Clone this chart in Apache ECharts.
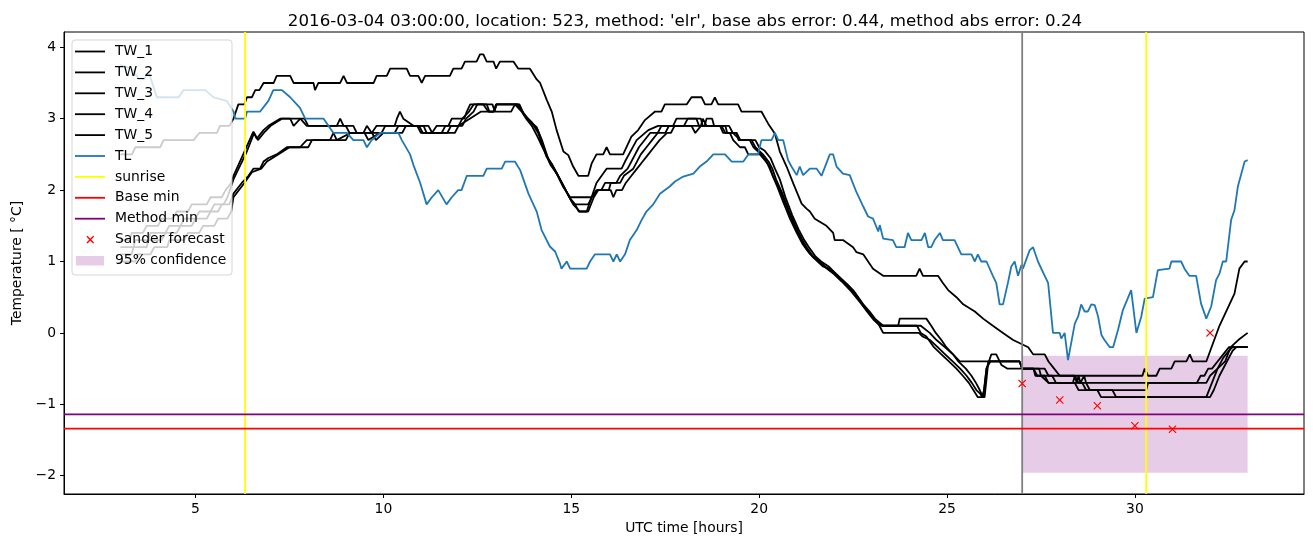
<!DOCTYPE html>
<html>
<head>
<meta charset="utf-8">
<script src="https://cdn.jsdelivr.net/npm/echarts@6/dist/echarts.min.js"></script>
<style>html,body{margin:0;padding:0;background:#fff}#c{width:1313px;height:547px}</style>
</head>
<body>
<div id="c"></div>
<script>
// ---------------- data ----------------
const tw1 = [[3.0,2.5],[3.31,2.5],[3.4,2.6],[4.06,2.6],[4.15,2.7],[4.95,2.7],[5.1,2.8],[5.57,2.8],[5.65,2.9],[5.9,2.9],[6.01,3.0],[6.14,3.2],[6.3,3.2],[6.37,3.3],[6.5,3.3],[6.59,3.4],[6.7,3.4],[6.81,3.5],[7.08,3.5],[7.16,3.6],[7.52,3.6],[7.61,3.5],[8.14,3.5],[8.18,3.4],[8.27,3.5],[8.85,3.5],[8.94,3.6],[9.03,3.5],[9.74,3.5],[9.82,3.6],[10.09,3.6],[10.18,3.7],[10.62,3.7],[10.71,3.6],[10.93,3.6],[11.02,3.5],[11.11,3.6],[11.77,3.6],[11.86,3.7],[12.08,3.7],[12.17,3.8],[12.48,3.8],[12.57,3.9],[12.66,3.9],[12.75,3.8],[12.93,3.8],[13.0,3.7],[13.1,3.8],[13.46,3.8],[13.59,3.7],[13.9,3.7],[14.08,3.55],[14.17,3.5],[14.35,3.26],[14.48,3.1],[14.61,2.84],[14.79,2.54],[14.92,2.49],[15.05,2.33],[15.19,2.2],[15.45,2.2],[15.54,2.37],[15.67,2.5],[15.85,2.5],[15.94,2.6],[16.03,2.5],[16.38,2.5],[16.6,2.75],[16.78,2.84],[16.96,2.98],[17.23,3.1],[17.4,3.1],[17.49,3.2],[18.07,3.2],[18.2,3.3],[18.47,3.3],[18.56,3.2],[18.73,3.2],[18.82,3.3],[18.91,3.2],[19.44,3.2],[19.53,3.1],[20.06,3.1],[20.24,2.93],[20.42,2.79],[20.55,2.54],[20.73,2.33],[20.91,2.09],[21.13,1.81],[21.26,1.74],[21.35,1.7],[21.48,1.6],[21.79,1.5],[21.97,1.4],[22.01,1.3],[22.23,1.3],[22.5,1.2],[22.59,1.13],[22.77,1.1],[22.9,1.0],[23.03,0.9],[23.3,0.8],[24.18,0.8],[24.27,0.9],[24.36,0.8],[24.76,0.8],[24.89,0.7],[25.03,0.6],[25.25,0.5],[25.43,0.4],[25.74,0.3],[25.96,0.2],[26.22,0.1],[26.49,0.0],[26.76,-0.1],[27.16,-0.2],[27.29,-0.3],[27.6,-0.3],[27.7,-0.4],[27.85,-0.5],[28.0,-0.6],[30.2,-0.6],[30.26,-0.5],[30.35,-0.6],[30.57,-0.6],[30.66,-0.5],[30.97,-0.5],[31.06,-0.4],[31.37,-0.4],[31.46,-0.3],[31.54,-0.4],[31.9,-0.4],[32.25,0.1],[32.65,0.55],[32.78,0.9],[32.92,1.0],[33.0,1.0]];

const tw2 = [[3.0,1.3],[3.25,1.3],[3.3,1.4],[3.6,1.4],[3.7,1.5],[4.0,1.5],[4.1,1.6],[4.4,1.6],[4.5,1.7],[4.8,1.7],[4.9,1.8],[5.3,1.8],[5.4,1.9],[5.7,1.9],[5.8,2.0],[5.95,2.1],[6.01,2.2],[6.32,2.56],[6.54,2.82],[6.63,2.72],[6.81,2.84],[6.94,2.9],[7.25,3.0],[7.52,3.0],[7.61,2.9],[7.79,3.0],[7.96,2.9],[8.76,2.9],[8.85,3.0],[8.94,2.9],[9.2,2.9],[9.29,2.8],[9.47,2.8],[9.56,2.9],[9.69,2.8],[9.82,2.9],[10.3,2.9],[10.36,3.0],[10.44,3.1],[10.53,3.0],[10.8,2.9],[11.07,2.9],[11.15,2.8],[11.29,2.8],[11.42,2.9],[11.73,2.9],[11.82,3.0],[12.15,3.0],[12.22,3.1],[12.31,3.2],[12.66,3.2],[12.79,3.1],[12.93,3.1],[13.0,3.2],[13.59,3.2],[13.72,3.07],[13.9,2.96],[14.08,2.88],[14.17,2.75],[14.34,2.47],[14.48,2.37],[14.79,2.04],[14.97,1.9],[15.54,1.9],[15.67,2.1],[15.94,2.3],[16.34,2.3],[16.43,2.4],[16.74,2.7],[17.05,2.84],[17.31,2.9],[17.71,2.9],[17.8,3.0],[18.33,3.0],[18.4,2.9],[18.96,2.9],[19.04,2.8],[19.22,2.8],[19.31,2.7],[19.49,2.6],[19.62,2.6],[19.71,2.5],[20.02,2.5],[20.15,2.42],[20.28,2.33],[20.37,2.19],[20.55,2.0],[20.73,1.77],[20.91,1.53],[21.08,1.35],[21.22,1.21],[21.35,1.11],[21.53,1.02],[21.7,0.93],[21.88,0.9],[22.1,0.8],[22.3,0.7],[22.5,0.6],[22.77,0.4],[22.94,0.3],[23.08,0.2],[23.3,0.1],[23.7,0.1],[23.74,0.2],[24.45,0.2],[24.58,0.1],[24.7,0.0],[24.85,-0.1],[24.98,-0.2],[25.16,-0.3],[25.34,-0.4],[26.93,-0.4],[27.0,-0.5],[27.45,-0.5],[27.5,-0.6],[27.7,-0.7],[28.45,-0.7],[28.5,-0.6],[28.55,-0.7],[28.65,-0.6],[28.7,-0.7],[31.9,-0.7],[32.0,-0.6],[32.2,-0.5],[32.4,-0.4],[32.55,-0.2],[32.75,-0.1],[33.0,0.0]];

const tw3 = [[3.0,1.2],[3.35,1.2],[3.4,1.3],[3.75,1.3],[3.8,1.4],[4.2,1.4],[4.3,1.5],[4.6,1.5],[4.7,1.6],[5.0,1.6],[5.1,1.7],[5.4,1.7],[5.5,1.8],[5.75,1.8],[5.85,1.9],[6.01,2.15],[6.35,2.52],[6.56,2.8],[6.66,2.7],[6.85,2.82],[7.0,2.9],[7.3,3.0],[7.9,3.0],[8.0,2.9],[9.0,2.9],[9.1,2.8],[9.95,2.8],[10.05,2.9],[10.9,2.9],[11.0,2.8],[11.55,2.8],[11.65,2.9],[12.0,2.9],[12.1,3.0],[12.28,3.1],[12.4,3.2],[12.9,3.2],[12.97,3.1],[13.4,3.1],[13.5,3.2],[13.62,3.2],[13.75,3.05],[13.95,2.95],[14.1,2.85],[14.22,2.7],[14.38,2.45],[14.55,2.3],[14.85,2.0],[15.0,1.85],[15.1,1.8],[15.45,1.8],[15.55,1.9],[15.7,2.0],[15.8,2.0],[15.9,2.1],[16.2,2.1],[16.3,2.2],[16.5,2.3],[16.8,2.6],[17.1,2.8],[17.3,2.8],[17.4,2.9],[18.0,2.9],[18.1,3.0],[18.45,3.0],[18.5,2.9],[19.1,2.9],[19.15,2.8],[19.4,2.8],[19.45,2.7],[19.8,2.7],[19.9,2.6],[20.1,2.5],[20.25,2.4],[20.35,2.3],[20.45,2.15],[20.62,1.95],[20.8,1.7],[20.98,1.48],[21.15,1.3],[21.3,1.17],[21.42,1.08],[21.6,1.0],[21.78,0.92],[21.95,0.85],[22.15,0.75],[22.35,0.65],[22.55,0.55],[22.8,0.36],[22.98,0.25],[23.12,0.15],[23.3,0.1],[24.3,0.1],[24.54,0.0],[24.72,-0.1],[24.94,-0.2],[25.16,-0.3],[25.3,-0.4],[25.5,-0.5],[25.65,-0.6],[25.77,-0.7],[25.87,-0.8],[25.96,-0.9],[26.05,-0.5],[26.18,-0.3],[26.31,-0.3],[26.45,-0.45],[26.6,-0.5],[27.3,-0.5],[27.4,-0.6],[27.6,-0.6],[27.7,-0.7],[28.4,-0.7],[28.5,-0.8],[30.3,-0.8],[30.35,-0.7],[31.65,-0.7],[31.75,-0.6],[31.85,-0.6],[31.95,-0.5],[32.05,-0.5],[32.2,-0.4],[32.35,-0.3],[32.5,-0.2],[33.0,-0.2]];

const tw4 = [[3.0,1.1],[3.3,1.1],[3.35,1.2],[3.7,1.2],[3.75,1.3],[4.1,1.3],[4.2,1.4],[4.5,1.4],[4.6,1.5],[4.9,1.5],[5.0,1.6],[5.3,1.6],[5.4,1.7],[5.6,1.7],[5.7,1.8],[5.9,1.8],[6.01,1.95],[6.23,2.1],[6.41,2.2],[6.54,2.3],[6.72,2.3],[6.81,2.4],[6.94,2.45],[7.16,2.5],[7.43,2.6],[7.78,2.6],[7.96,2.7],[8.58,2.7],[8.67,2.8],[8.76,2.7],[9.12,2.8],[9.5,2.8],[9.6,2.7],[9.9,2.8],[10.3,2.8],[10.4,2.9],[10.95,2.9],[11.05,2.8],[11.7,2.8],[11.8,2.9],[12.1,2.9],[12.2,3.0],[12.4,3.1],[12.5,3.2],[12.75,3.2],[12.82,3.1],[12.95,3.1],[13.02,3.2],[13.55,3.2],[13.7,3.1],[13.85,3.0],[14.0,2.9],[14.12,2.8],[14.25,2.6],[14.42,2.4],[14.6,2.25],[14.75,2.1],[14.9,1.95],[15.05,1.8],[15.23,1.7],[15.41,1.7],[15.54,1.9],[15.67,2.0],[16.05,2.0],[16.12,1.9],[16.2,2.0],[16.35,2.0],[16.45,2.1],[16.6,2.2],[16.75,2.3],[16.9,2.4],[17.05,2.5],[17.2,2.6],[17.35,2.7],[17.55,2.8],[17.65,2.8],[17.75,2.9],[18.55,2.9],[18.6,3.0],[18.75,3.0],[18.8,2.9],[19.2,2.9],[19.3,2.8],[19.5,2.7],[19.9,2.7],[20.0,2.6],[20.15,2.55],[20.3,2.45],[20.42,2.3],[20.55,2.15],[20.7,1.9],[20.88,1.65],[21.05,1.45],[21.2,1.3],[21.35,1.18],[21.5,1.07],[21.65,1.0],[21.85,0.93],[22.0,0.85],[22.2,0.75],[22.4,0.65],[22.6,0.52],[22.85,0.33],[23.02,0.22],[23.2,0.1],[23.3,0.0],[24.25,0.0],[24.35,-0.05],[24.55,-0.1],[24.75,-0.2],[24.95,-0.3],[25.15,-0.4],[25.35,-0.5],[25.52,-0.6],[25.66,-0.7],[25.78,-0.8],[25.88,-0.85],[25.94,-0.9],[26.0,-0.9],[26.1,-0.4],[26.93,-0.4],[27.0,-0.5],[27.3,-0.5],[27.35,-0.6],[27.8,-0.6],[27.9,-0.7],[28.35,-0.7],[28.4,-0.6],[28.45,-0.7],[28.6,-0.7],[28.7,-0.8],[29.0,-0.8],[29.1,-0.9],[31.9,-0.9],[32.05,-0.7],[32.2,-0.5],[32.35,-0.35],[32.5,-0.25],[32.6,-0.2],[33.0,-0.2]];

const tw5 = [[3.0,1.0],[3.4,1.0],[3.45,1.1],[3.8,1.1],[3.9,1.2],[4.25,1.2],[4.3,1.3],[4.7,1.3],[4.8,1.4],[5.1,1.4],[5.2,1.5],[5.5,1.5],[5.6,1.6],[5.85,1.6],[5.95,1.7],[6.01,1.9],[6.3,2.1],[6.5,2.25],[6.75,2.3],[6.9,2.4],[7.2,2.5],[7.5,2.6],[8.0,2.6],[8.1,2.7],[9.0,2.7],[9.1,2.8],[9.7,2.8],[9.8,2.7],[10.0,2.8],[10.5,2.8],[10.6,2.9],[11.2,2.9],[11.3,2.8],[11.9,2.8],[12.0,2.9],[12.3,3.0],[12.6,3.1],[12.95,3.1],[13.0,3.2],[13.5,3.2],[13.68,3.1],[13.8,3.0],[13.95,2.9],[14.1,2.75],[14.28,2.55],[14.45,2.35],[14.65,2.2],[14.8,2.05],[14.95,1.9],[15.1,1.8],[15.2,1.7],[15.45,1.7],[15.6,1.9],[15.72,2.0],[16.0,2.0],[16.05,2.1],[16.3,2.1],[16.4,2.2],[16.65,2.3],[16.85,2.5],[17.0,2.6],[17.15,2.7],[17.3,2.8],[17.5,2.8],[17.6,2.9],[18.2,2.9],[18.3,2.8],[18.45,2.9],[18.5,3.0],[18.6,2.9],[19.0,2.9],[19.1,2.8],[19.4,2.8],[19.5,2.7],[19.75,2.7],[19.85,2.6],[20.05,2.5],[20.2,2.4],[20.32,2.25],[20.48,2.05],[20.65,1.82],[20.82,1.6],[21.0,1.4],[21.15,1.25],[21.3,1.14],[21.45,1.05],[21.62,0.97],[21.8,0.9],[22.0,0.82],[22.2,0.72],[22.45,0.58],[22.7,0.42],[22.9,0.28],[23.05,0.18],[23.25,0.1],[24.2,0.1],[24.3,0.0],[24.45,-0.05],[24.65,-0.2],[24.85,-0.3],[25.05,-0.4],[25.25,-0.5],[25.42,-0.6],[25.58,-0.7],[25.7,-0.8],[25.82,-0.9],[25.93,-0.9],[25.99,-0.8],[26.05,-0.5],[26.15,-0.4],[26.93,-0.4],[27.0,-0.5],[27.6,-0.5],[27.7,-0.6],[28.4,-0.6],[28.5,-0.7],[28.7,-0.7],[28.8,-0.8],[29.4,-0.8],[29.5,-0.9],[32.0,-0.9],[32.1,-0.8],[32.25,-0.6],[32.4,-0.45],[32.5,-0.35],[32.6,-0.25],[32.7,-0.2],[33.0,-0.2]];

const tl = [[3.0,3.75],[3.3,3.7],[3.5,3.55],[3.62,3.55],[3.75,3.65],[3.85,3.5],[3.97,3.3],[4.55,3.3],[4.68,3.4],[5.26,3.4],[5.48,3.3],[5.83,3.25],[6.01,3.1],[6.06,3.0],[6.32,3.0],[6.37,3.1],[6.72,3.1],[6.94,3.25],[7.07,3.4],[7.3,3.4],[7.52,3.3],[7.78,3.15],[7.92,3.0],[8.41,3.0],[8.67,2.8],[9.03,2.8],[9.2,2.7],[9.47,2.7],[9.56,2.6],[9.69,2.7],[9.91,2.8],[10.4,2.8],[10.49,2.7],[10.71,2.5],[10.8,2.35],[10.98,2.1],[11.15,1.8],[11.29,1.9],[11.46,2.0],[11.68,1.8],[11.82,1.9],[11.99,2.0],[12.08,2.0],[12.22,2.2],[12.66,2.2],[12.75,2.3],[13.15,2.3],[13.24,2.4],[13.5,2.4],[13.64,2.28],[13.86,1.95],[14.08,1.7],[14.21,1.44],[14.43,1.21],[14.57,1.14],[14.7,0.97],[14.74,0.9],[14.88,1.0],[14.97,0.9],[15.41,0.9],[15.5,1.0],[15.63,1.1],[16.03,1.1],[16.12,1.0],[16.21,1.1],[16.3,1.0],[16.43,1.1],[16.56,1.3],[16.74,1.44],[16.87,1.58],[17.0,1.7],[17.18,1.8],[17.36,1.95],[17.62,2.05],[17.76,2.12],[17.98,2.19],[18.25,2.23],[18.42,2.33],[18.6,2.4],[18.78,2.5],[19.09,2.5],[19.27,2.4],[19.58,2.4],[19.71,2.5],[19.97,2.5],[20.06,2.7],[20.33,2.7],[20.42,2.8],[20.51,2.7],[20.64,2.7],[20.77,2.42],[20.86,2.33],[21.0,2.21],[21.08,2.33],[21.17,2.21],[21.35,2.3],[21.53,2.3],[21.66,2.2],[21.88,2.5],[21.97,2.5],[22.06,2.33],[22.23,2.23],[22.41,2.21],[22.59,1.97],[22.77,1.77],[22.9,1.63],[23.03,1.6],[23.17,1.42],[23.21,1.51],[23.3,1.32],[23.56,1.3],[23.65,1.2],[23.87,1.2],[23.96,1.4],[24.05,1.3],[24.32,1.3],[24.41,1.4],[24.5,1.2],[24.58,1.2],[24.67,1.3],[24.81,1.4],[24.89,1.3],[25.2,1.3],[25.38,1.1],[25.65,1.1],[25.74,1.0],[25.82,1.1],[25.91,1.0],[26.05,1.0],[26.22,0.8],[26.31,0.7],[26.4,0.4],[26.49,0.4],[26.62,0.7],[26.71,0.93],[26.8,1.0],[26.89,0.8],[26.98,0.95],[27.02,0.9],[27.2,1.16],[27.29,1.2],[27.42,1.0],[27.6,0.8],[27.69,0.7],[27.82,0.0],[28.0,0.0],[28.04,-0.08],[28.13,0.0],[28.22,-0.38],[28.4,0.13],[28.49,0.23],[28.57,0.4],[28.66,0.3],[28.75,0.3],[28.84,0.4],[28.93,0.39],[29.02,0.23],[29.11,-0.03],[29.19,-0.1],[29.33,-0.2],[29.42,-0.2],[29.55,0.04],[29.68,0.32],[29.9,0.6],[30.04,0.0],[30.08,0.02],[30.17,0.23],[30.26,0.48],[30.3,0.5],[30.48,0.5],[30.61,0.88],[30.66,0.9],[30.92,0.9],[30.97,1.0],[31.23,1.0],[31.32,0.9],[31.45,0.8],[31.63,0.8],[31.76,0.41],[31.9,0.2],[32.03,0.37],[32.16,0.74],[32.25,0.83],[32.34,1.0],[32.43,1.0],[32.56,1.58],[32.65,1.72],[32.74,2.05],[32.92,2.4],[33.0,2.42]];

const sunriseHours = [6.32, 30.30];
const nowHour = [27.0];
const baseMin = [-1.34];
const methodMin = [-1.14];
const sanderHours = [27, 28, 29, 30, 31, 32];
const sanderTemps = [-0.71, -0.94, -1.02, -1.30, -1.35, 0.0];
const confHours = [27, 33];
const confTemps = [-1.96, -0.32];
const xTicks = [5, 10, 15, 20, 25, 30];
const yTicks = [-2, -1, 0, 1, 2, 3, 4];

const titleText = "2016-03-04 03:00:00, location: 523, method: 'elr', base abs error: 0.44, method abs error: 0.24";
const legendNames = ['TW_1','TW_2','TW_3','TW_4','TW_5','TL','sunrise','Base min','Method min','Sander forecast','95% confidence'];

// ---------------- styles ----------------
const FONT = 'DejaVu Sans';
const FS = 13.9;
const LW = 1.8;
const C_TL = '#1f77b4';
const C_CONF = 'rgba(128,0,128,0.2)';
const X_PATH = 'path://M0,1 L1,0 L5,4 L9,0 L10,1 L6,5 L10,9 L9,10 L5,6 L1,10 L0,9 L4,5 Z';
const LEG_Z = 100;

function vlineRender(color) {
  return function (params, api) {
    const x = api.coord([api.value(0), 0])[0];
    const cs = params.coordSys;
    return { type: 'line', shape: { x1: x, y1: cs.y, x2: x, y2: cs.y + cs.height },
      style: { stroke: color, lineWidth: LW } };
  };
}
function hlineRender(color) {
  return function (params, api) {
    const y = api.coord([0, api.value(1)])[1];
    const cs = params.coordSys;
    return { type: 'line', shape: { x1: cs.x, y1: y, x2: cs.x + cs.width, y2: y },
      style: { stroke: color, lineWidth: LW } };
  };
}
function rectRender(params, api) {
  const p0 = api.coord([api.value(0), api.value(3)]);
  const p1 = api.coord([api.value(1), api.value(2)]);
  return { type: 'rect', shape: { x: p0[0], y: p0[1], width: p1[0] - p0[0], height: p1[1] - p0[1] },
    style: { fill: C_CONF } };
}

const twSeries = [tw1, tw2, tw3, tw4, tw5].map((d, i) => ({
  name: 'TW_' + (i + 1), type: 'line', data: d, symbol: 'none', showSymbol: false,
  lineStyle: { color: '#000', width: LW }, itemStyle: { color: '#000' }, z: 4, silent: true
}));

// legend built as graphic (matplotlib-like)
const legX = 72, legY = 40, legW = 160, legH = 235, rowH = 20.9, row0 = 51.5;
const legChildren = [{
  type: 'rect', z: LEG_Z, shape: { x: legX, y: legY, width: legW, height: legH, r: 3 },
  style: { fill: 'rgba(255,255,255,0.8)', stroke: 'rgba(204,204,204,0.8)', lineWidth: 1 }
}];
const legColors = ['#000','#000','#000','#000','#000',C_TL,'#ffff00','#ff0000','#800080'];
legendNames.forEach((name, i) => {
  const cy = row0 + i * rowH;
  if (i < 9) {
    legChildren.push({ type: 'line', z: LEG_Z + 1, shape: { x1: 75, y1: cy, x2: 105, y2: cy },
      style: { stroke: legColors[i], lineWidth: LW } });
  } else if (i === 9) {
    legChildren.push({ type: 'line', z: LEG_Z + 1, shape: { x1: 87, y1: cy - 3.3, x2: 93.6, y2: cy + 3.3 },
      style: { stroke: '#ff0000', lineWidth: 1.4 } });
    legChildren.push({ type: 'line', z: LEG_Z + 1, shape: { x1: 87, y1: cy + 3.3, x2: 93.6, y2: cy - 3.3 },
      style: { stroke: '#ff0000', lineWidth: 1.4 } });
  } else {
    legChildren.push({ type: 'rect', z: LEG_Z + 1, shape: { x: 76, y: cy - 4.5, width: 28, height: 9.5 },
      style: { fill: C_CONF } });
  }
  legChildren.push({ type: 'text', z: LEG_Z + 1, x: 115, y: cy, style: { text: name, fill: '#000',
    font: FS + 'px "' + FONT + '"', verticalAlign: 'middle', align: 'left' } });
});

const option = {
  animation: false,
  backgroundColor: '#fff',
  textStyle: { fontFamily: FONT },
  title: {
    text: titleText, left: 680, top: 8, textAlign: 'center',
    textStyle: { fontFamily: FONT, fontSize: 16.67, fontWeight: 'normal', color: '#000' }
  },
  grid: { left: 64, right: 9, top: 32, bottom: 53, show: true, borderColor: '#000', borderWidth: 1, containLabel: false },
  xAxis: {
    type: 'value', min: 1.5, max: 34.5, minInterval: 5, maxInterval: 5,
    name: 'UTC time [hours]', nameLocation: 'middle', nameGap: 27,
    nameTextStyle: { fontFamily: FONT, fontSize: FS, color: '#000' },
    axisLine: { show: true, onZero: false, lineStyle: { color: '#000', width: 1 } },
    axisTick: { show: true, inside: false, length: 4, lineStyle: { color: '#000' } },
    axisLabel: { show: true, margin: 8, color: '#000', fontFamily: FONT, fontSize: FS,
      showMinLabel: false, showMaxLabel: false,
      formatter: v => (xTicks.indexOf(Math.round(v * 1000) / 1000) >= 0 ? String(v) : '') },
    splitLine: { show: false }
  },
  yAxis: {
    type: 'value', min: -2.256, max: 4.214, minInterval: 1, maxInterval: 1,
    name: 'Temperature [ \u00b0C]', nameLocation: 'middle', nameGap: 40, nameRotate: 90,
    nameTextStyle: { fontFamily: FONT, fontSize: FS, color: '#000' },
    axisLine: { show: true, onZero: false, lineStyle: { color: '#000', width: 1 } },
    axisTick: { show: true, inside: false, length: 4, lineStyle: { color: '#000' } },
    axisLabel: { show: true, margin: 8, color: '#000', fontFamily: FONT, fontSize: FS,
      showMinLabel: false, showMaxLabel: false,
      formatter: v => { const r = Math.round(v * 1000) / 1000; return yTicks.indexOf(r) >= 0 ? (r < 0 ? '\u2212' + Math.abs(r) : String(r)) : ''; } },
    splitLine: { show: false }
  },
  series: [
    { name: '95% confidence', type: 'custom', renderItem: rectRender, z: 1, silent: true,
      data: [[confHours[0], confHours[1], confTemps[0], confTemps[1]]], encode: { x: [0, 1], y: [2, 3] } },
    ...twSeries,
    { name: 'TL', type: 'line', data: tl, symbol: 'none', showSymbol: false,
      lineStyle: { color: C_TL, width: LW }, itemStyle: { color: C_TL }, z: 5, silent: true },
    { name: 'sunrise', type: 'custom', renderItem: vlineRender('#ffff00'), z: 6, silent: true,
      data: sunriseHours.map(h => [h, 0]), encode: { x: 0, y: 1 } },
    { name: 'now', type: 'custom', renderItem: vlineRender('#808080'), z: 6, silent: true,
      data: nowHour.map(h => [h, 0]), encode: { x: 0, y: 1 } },
    { name: 'Base min', type: 'custom', renderItem: hlineRender('#ff0000'), z: 6, silent: true,
      data: baseMin.map(v => [10, v]), encode: { x: 0, y: 1 } },
    { name: 'Method min', type: 'custom', renderItem: hlineRender('#800080'), z: 6, silent: true,
      data: methodMin.map(v => [10, v]), encode: { x: 0, y: 1 } },
    { name: 'Sander forecast', type: 'scatter', symbol: X_PATH, symbolSize: 8, z: 7, silent: true,
      itemStyle: { color: '#ff0000', opacity: 1 },
      data: sanderHours.map((h, i) => [h, sanderTemps[i]]) }
  ],
  graphic: [{ type: 'group', z: LEG_Z, children: legChildren }]
};

const chart = echarts.init(document.getElementById('c'), null, { renderer: 'canvas', width: 1313, height: 547 });
chart.setOption(option);
</script>
</body>
</html>
